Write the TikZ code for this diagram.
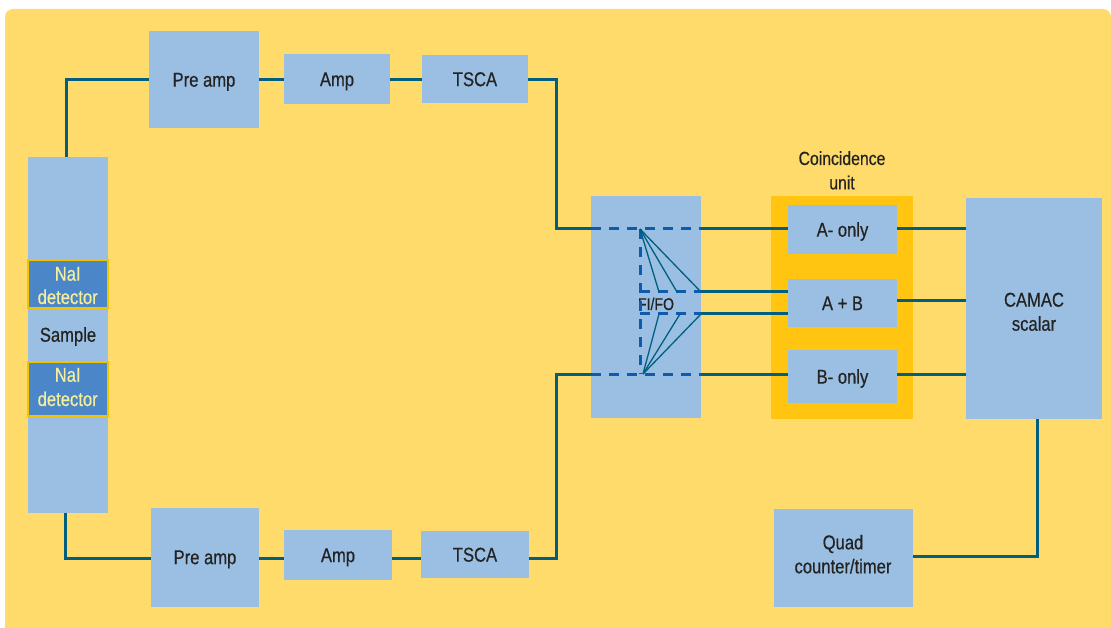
\documentclass[tikz,border=0pt]{standalone}
\usepackage{fontspec}
\setmainfont[FakeStretch=0.83,FakeBold=0.5]{Liberation Sans}
\definecolor{bgyel}{HTML}{FEDB6A}
\definecolor{boxblue}{HTML}{9ABFE3}
\definecolor{darkblue}{HTML}{4A86C8}
\definecolor{paleyel}{HTML}{F5EE9A}
\definecolor{goldedge}{HTML}{F4C300}
\definecolor{orangeu}{HTML}{FFC511}
\definecolor{wire}{HTML}{005F7F}
\definecolor{dashblue}{HTML}{0D5BAA}
\definecolor{txt}{HTML}{232323}
\tikzset{
  box/.style={fill=boxblue, draw=none, inner sep=0pt, outer sep=0pt, text=txt, font=\fontsize{20}{24}\selectfont},
  one/.style={text height=14.3pt, text depth=0pt},
  nai/.style={fill=darkblue, draw=goldedge, line width=1.2pt, inner sep=0pt, outer sep=0pt},
  lbl/.style={inner sep=0pt, outer sep=0pt, anchor=base, text=txt, font=\fontsize{20}{24}\selectfont},
  nailbl/.style={lbl, text=paleyel},
  wireline/.style={draw=wire, line width=3pt, line join=miter},
  dashline/.style={draw=dashblue, line width=3pt, dash pattern=on 10pt off 8pt},
  fanline/.style={draw=wire, line width=1.3pt},
}
\begin{document}
\begin{tikzpicture}[x=1pt,y=-1pt]
\useasboundingbox (0,0) rectangle (1111,628);
\fill[white] (0,0) rectangle (1111,628);
\fill[bgyel, rounded corners=8pt] (5,628) -- (5,9) -- (1111,9) [sharp corners] -- (1111,628) -- cycle;

% detector column
\node[box, minimum width=80pt, minimum height=356pt] (col) at (68,335) {};
\node[nai, minimum width=80pt, minimum height=48pt] (nai1) at (68,284) {};
\node[box, minimum width=80pt, minimum height=36pt] (sample) at (68,335) {};
\node[nai, minimum width=80pt, minimum height=54pt] (nai2) at (68,389) {};
\node[nailbl] (nai1a) at (67.7,280.7) {NaI};
\node[nailbl] (nai1b) at (67.7,304) {detector};
\node[lbl] (samplet) at (68,341.7) {Sample};
\node[nailbl] (nai2a) at (67.7,381.7) {NaI};
\node[nailbl] (nai2b) at (67.7,406) {detector};

% top chain
\node[box, one, minimum width=110pt, minimum height=97pt] (pre1) at (204,79.5) {Pre amp};
\node[box, one, minimum width=106pt, minimum height=50pt] (amp1) at (337,79) {Amp};
\node[box, one, minimum width=106pt, minimum height=48pt] (tsca1) at (475,79) {TSCA};

% bottom chain
\node[box, one, minimum width=108pt, minimum height=99pt] (pre2) at (205,557) {Pre amp};
\node[box, one, minimum width=108pt, minimum height=50pt] (amp2) at (338,555) {Amp};
\node[box, one, minimum width=108pt, minimum height=47pt] (tsca2) at (475,554.5) {TSCA};

% FI/FO
\node[box, minimum width=110pt, minimum height=222pt] (fifo) at (646,307) {};
\node[lbl, font=\fontsize{17}{20}\selectfont] (fifolab) at (656,310) {FI/FO};

% coincidence unit
\node[fill=orangeu, minimum width=142pt, minimum height=223pt, inner sep=0pt, outer sep=0pt] (coin) at (842,307.5) {};
\node[lbl, font=\fontsize{19}{24}\selectfont] (coinlab1) at (842,165) {Coincidence};
\node[lbl, font=\fontsize{19}{24}\selectfont] (coinlab2) at (842,189.3) {unit};
\node[box, one, minimum width=109pt, minimum height=49pt] (aonly) at (842.5,229.5) {A- only};
\node[box, one, minimum width=109pt, minimum height=48pt] (apb) at (842.5,303) {A + B};
\node[box, one, minimum width=109pt, minimum height=53pt] (bonly) at (842.5,376.5) {B- only};

% CAMAC and quad
\node[box, minimum width=136pt, minimum height=221pt] (camac) at (1034,308.5) {};
\node[lbl] (camac1) at (1034,306.7) {CAMAC};
\node[lbl] (camac2) at (1034,330.7) {scalar};
\node[box, minimum width=139pt, minimum height=98pt] (quad) at (843.5,558) {};
\node[lbl] (quad1) at (843,549.3) {Quad};
\node[lbl] (quad2) at (843,573.3) {counter/timer};

% junction coordinates in FI/FO
\coordinate (jt) at (640,229);
\coordinate (jb) at (643,374);
\coordinate (m1) at (640,292);
\coordinate (m2) at (640,314);

% wires left
\draw[wireline] (col.north -| 66,0) |- (pre1.west |- 0,80);
\draw[wireline] (col.south -| 65,0) |- (pre2.west |- 0,558);
\draw[wireline] (pre1.east |- 0,80) -- (amp1.west |- 0,80);
\draw[wireline] (amp1.east |- 0,80) -- (tsca1.west |- 0,80);
\draw[wireline] (pre2.east |- 0,558) -- (amp2.west |- 0,558);
\draw[wireline] (amp2.east |- 0,558) -- (tsca2.west |- 0,558);
\draw[wireline] (tsca1.east |- 0,80) -| (556,229) -- (fifo.west |- 0,229);
\draw[wireline] (tsca2.east |- 0,558) -| (556,374) -- (fifo.west |- 0,374);

% FI/FO internals
\draw[dashline] (fifo.west |- jt) -- (fifo.east |- jt);
\draw[dashline] (fifo.west |- jb) -- (fifo.east |- jb);
\draw[dashline] (jt) -- (640,374);
\draw[dashline] (m1) -- (fifo.east |- m1);
\draw[dashline] (m2) -- (fifo.east |- m2);
\draw[fanline] (jt) -- (659,292);
\draw[fanline] (jt) -- (677,292);
\draw[fanline] (jt) -- (701,292);
\draw[fanline] (jb) -- (659,314);
\draw[fanline] (jb) -- (680,314);
\draw[fanline] (jb) -- (701,314);

% FI/FO to coincidence
\draw[wireline] (fifo.east |- 0,229) -- (aonly.west |- 0,229);
\draw[wireline] (fifo.east |- 0,292) -- (apb.west |- 0,292);
\draw[wireline] (fifo.east |- 0,314) -- (apb.west |- 0,314);
\draw[wireline] (fifo.east |- 0,374) -- (bonly.west |- 0,374);

% coincidence to CAMAC
\draw[wireline] (aonly.east |- 0,229) -- (camac.west |- 0,229);
\draw[wireline] (apb.east |- 0,301) -- (camac.west |- 0,301);
\draw[wireline] (bonly.east |- 0,374) -- (camac.west |- 0,374);

% CAMAC to quad
\draw[wireline] (camac.south -| 1037,0) |- (quad.east |- 0,556);
\end{tikzpicture}
\end{document}
